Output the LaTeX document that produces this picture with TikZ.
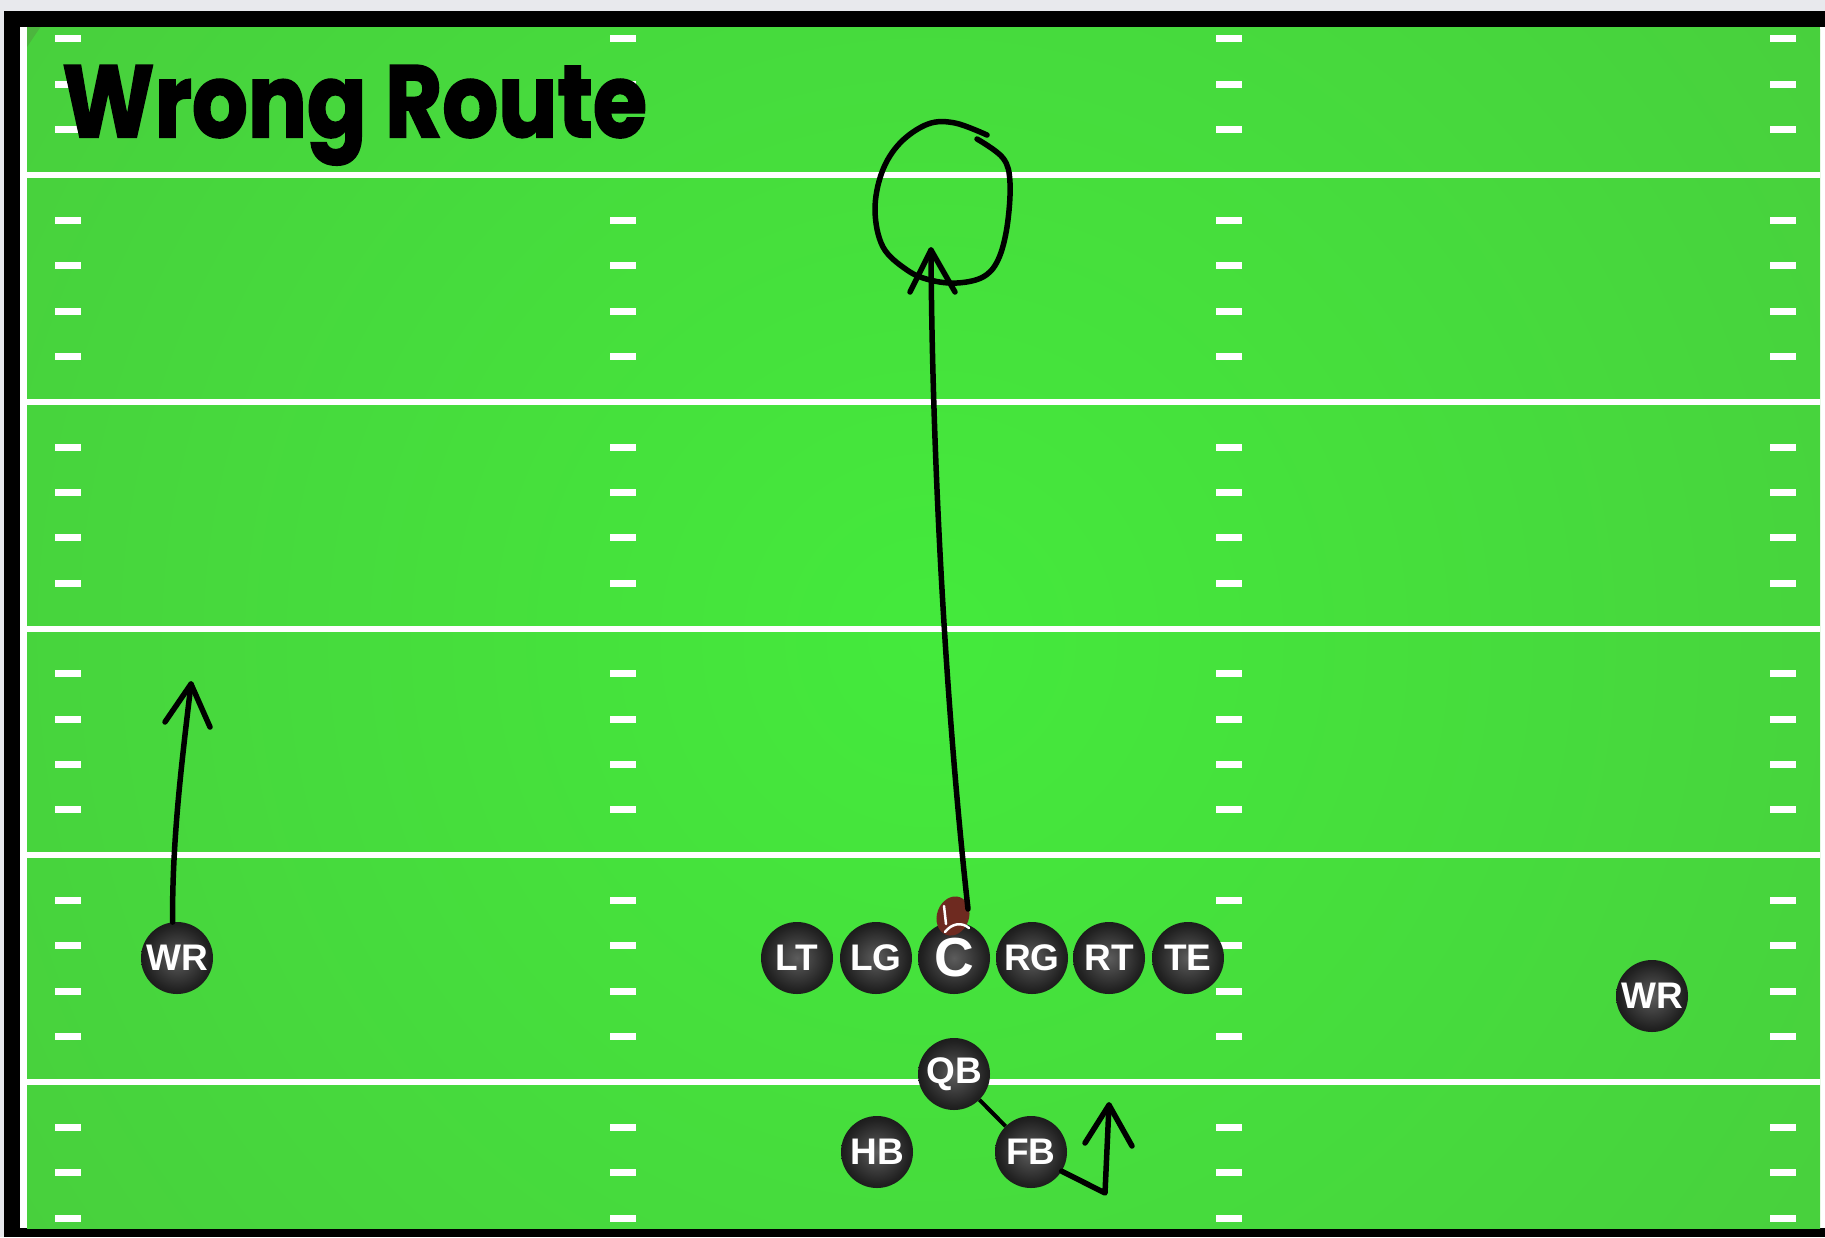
\documentclass[tikz,border=0pt]{standalone}
\usepackage{fontspec}
\usetikzlibrary{shapes.geometric}
\newfontfamily\titlefont{Poppins}[FakeBold=2]
\newfontfamily\playerfont{Liberation Sans}
\definecolor{bggray}{RGB}{232,233,237}
\definecolor{fieldin}{RGB}{68,234,60}
\definecolor{fieldout}{RGB}{76,182,62}
\definecolor{ballin}{RGB}{92,92,92}
\definecolor{ballmid}{RGB}{34,34,34}
\definecolor{pigskin}{RGB}{110,42,32}
\pgfdeclareradialshading{fieldgrad}{\pgfpoint{0bp}{0bp}}{color(0bp)=(fieldin); color(50bp)=(fieldout)}
\pgfdeclareradialshading{playerball}{\pgfpoint{0bp}{0bp}}{color(0bp)=(ballin); color(22bp)=(ballmid); color(40bp)=(black); color(50bp)=(black)}
\tikzset{
  player/.style={circle, minimum size=72pt, inner sep=0pt, shading=playerball, text=white,
    font=\playerfont\bfseries\fontsize{37}{37}\selectfont},
  route/.style={line width=5.5pt, line cap=round, line join=round, draw=black},
  yardline/.style={draw=white, line width=6pt},
  hashmark/.style={fill=white},
}
\begin{document}
\begin{tikzpicture}[x=1pt,y=-1pt]
\useasboundingbox (0,0) rectangle (1825,1237);
\fill[bggray] (0,0) rectangle (1825,1237);
\fill[black] (4,11) rectangle (1825,1237);
\fill[white] (20,27) rectangle (1825,1228);
\begin{scope}
  \clip (27,27) rectangle (1820,1228);
  \fill[fieldout] (27,27) rectangle (1820,1228);
  \shade[shading=fieldgrad] (930,640) circle (1080);
\end{scope}
% yard lines
\foreach \yy in {175,401.75,628.5,855.25,1082}
  \draw[yardline] (27,\yy) -- (1820,\yy);
% hash marks
\foreach \k in {-3,-2,-1,1,2,3,4,6,7,8,9,11,12,13,14,16,17,18,19,21,22,23}{
  \pgfmathsetmacro\hy{175+45.35*\k}
  \foreach \hx in {68,623,1229,1783}
    \fill[hashmark] (\hx-13,\hy-3.5) rectangle (\hx+13,\hy+3.5);
}
% title
\node[anchor=base west, inner sep=0pt, xscale=0.86, font=\titlefont\bfseries\fontsize{102}{102}\selectfont] (title) at (62,137) {Wrong Route};
% players
\node[player] (WRL) at (177,958) {WR};
\node[player] (LT) at (797,958) {LT};
\node[player] (LG) at (876,958) {LG};
\node[player, font=\playerfont\bfseries\fontsize{55}{55}\selectfont] (C) at (954,958) {C};
\node[player] (RG) at (1032,958) {RG};
\node[player] (RT) at (1109,958) {RT};
\node[player] (TE) at (1188,958) {TE};
\node[player] (QB) at (954,1074) {QB};
\node[player] (HB) at (877,1152) {HB};
\node[player] (FB) at (1031,1152) {FB};
\node[player] (WRR) at (1652,996) {WR};
% football
\node[ellipse, fill=pigskin, minimum width=32pt, minimum height=40pt, inner sep=0pt, rotate=-20] (ball) at (953,916) {};
\draw[white, line width=2.5pt, line cap=round] (944,906) -- (946,924);
\draw[white, line width=2.5pt, line cap=round] (945,932) .. controls (952,923) and (962,922) .. (969,928);
% center route
\coordinate (cstart) at (968,909);
\coordinate (ctip) at (931,250);
\coordinate (cl) at (910,292);
\coordinate (cr) at (955,292);
\draw[route] (cstart) .. controls (945,700) and (932,450) .. (ctip);
\draw[route] (cl) -- (ctip) -- (cr);
\draw[route] plot[smooth, tension=0.6] coordinates {(987,135) (955,123) (928,124) (900,143) (882,172) (875,210) (883,247) (907,270) (930,280) (957,283) (983,277) (998,260) (1007,227) (1010,183) (1003,158) (977,139)};
% left WR route
\coordinate (wtip) at (191,684);
\coordinate (wl) at (165,722);
\coordinate (wr) at (210,727);
\draw[route] (WRL.97) .. controls (172,840) and (182,760) .. (wtip);
\draw[route] (wl) -- (wtip) -- (wr);
% QB - FB
\draw[line width=4pt] (QB) -- (FB);
% FB route
\coordinate (fbturn) at (1105,1193);
\coordinate (fbtip) at (1109,1105);
\coordinate (fbl) at (1085,1143);
\coordinate (fbr) at (1132,1146);
\draw[route] (FB.-32) -- (fbturn) -- (fbtip);
\draw[route] (fbl) -- (fbtip) -- (fbr);
\end{tikzpicture}
\end{document}
